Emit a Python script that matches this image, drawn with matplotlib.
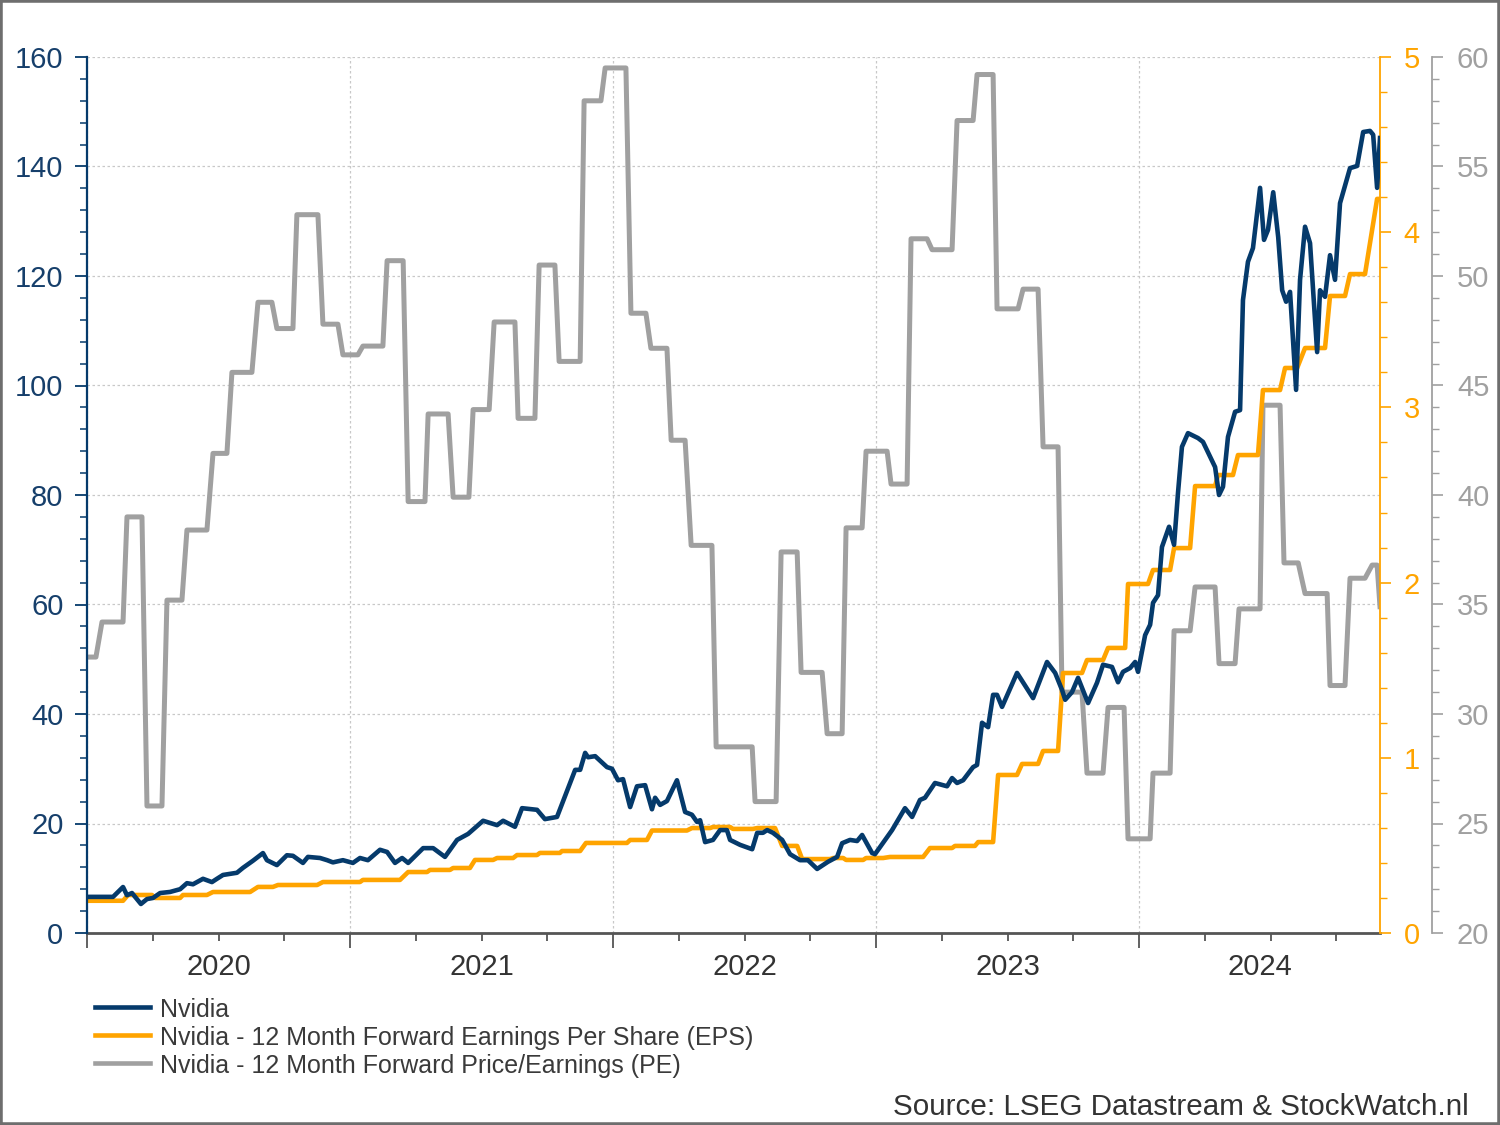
import numpy as np
import matplotlib
matplotlib.use("Agg")
import matplotlib.pyplot as plt
from matplotlib.ticker import MultipleLocator, NullFormatter
from matplotlib.lines import Line2D
from matplotlib.patches import Rectangle

plt.rcParams['font.family'] = ['Liberation Sans', 'DejaVu Sans']

# Nvidia koers (USD, split-gecorrigeerd), tijd in jaren vanaf 2020
nv_t = [0.000, 0.049, 0.099, 0.137, 0.152, 0.171, 0.205, 0.228, 0.251, 0.278,
        0.316, 0.354, 0.380, 0.403, 0.441, 0.475, 0.494, 0.517, 0.570, 0.593,
        0.631, 0.669, 0.684, 0.722, 0.760, 0.783, 0.821, 0.840, 0.886, 0.913,
        0.935, 0.973, 1.011, 1.038, 1.068, 1.114, 1.141, 1.171, 1.198, 1.221,
        1.278, 1.316, 1.361, 1.407, 1.449, 1.506, 1.559, 1.582, 1.627, 1.654,
        1.711, 1.741, 1.787, 1.856, 1.875, 1.894, 1.905, 1.932, 1.977, 1.996,
        2.019, 2.038, 2.065, 2.091, 2.122, 2.148, 2.160, 2.179, 2.205, 2.243,
        2.274, 2.300, 2.319, 2.331, 2.350, 2.380, 2.407, 2.433, 2.445, 2.483,
        2.529, 2.548, 2.570, 2.586, 2.608, 2.643, 2.673, 2.711, 2.741, 2.776,
        2.817, 2.852, 2.871, 2.901, 2.928, 2.947, 2.985, 2.996, 3.061, 3.110,
        3.137, 3.167, 3.186, 3.224, 3.270, 3.289, 3.308, 3.331, 3.369, 3.384,
        3.403, 3.426, 3.445, 3.460, 3.479, 3.536, 3.597, 3.650, 3.681, 3.707,
        3.719, 3.745, 3.768, 3.806, 3.840, 3.863, 3.897, 3.920, 3.939, 3.966,
        3.985, 3.996, 4.023, 4.042, 4.053, 4.072, 4.087, 4.114, 4.133, 4.148,
        4.163, 4.186, 4.224, 4.243, 4.289, 4.304, 4.319, 4.338, 4.365, 4.384,
        4.395, 4.414, 4.433, 4.460, 4.475, 4.490, 4.510, 4.529, 4.544, 4.559,
        4.574, 4.597, 4.612, 4.631, 4.650, 4.677, 4.688, 4.707, 4.726, 4.745,
        4.764, 4.802, 4.829, 4.852, 4.878, 4.890, 4.905, 4.916]
nv_v = [6.6, 6.6, 6.6, 8.4, 6.9, 7.3, 5.3, 6.2, 6.4, 7.3,
        7.5, 8.0, 9.1, 8.9, 9.9, 9.3, 9.9, 10.6, 11.0, 11.9,
        13.2, 14.6, 13.3, 12.4, 14.2, 14.1, 12.8, 13.9, 13.7, 13.3,
        12.9, 13.3, 12.8, 13.7, 13.3, 15.2, 14.8, 12.8, 13.7, 12.8,
        15.5, 15.5, 13.9, 17.0, 18.1, 20.5, 19.7, 20.5, 19.4, 22.8,
        22.5, 20.8, 21.2, 29.8, 29.8, 32.9, 32.1, 32.3, 30.3, 30.0,
        27.9, 28.1, 23.0, 26.8, 27.0, 22.6, 24.7, 23.4, 24.1, 27.9,
        22.1, 21.6, 20.3, 20.6, 16.6, 17.0, 18.8, 18.8, 17.0, 16.1,
        15.3, 18.3, 18.3, 18.8, 18.3, 17.0, 14.4, 13.3, 13.3, 11.7,
        13.0, 13.9, 16.4, 17.0, 16.8, 17.9, 14.6, 14.4, 18.8, 22.8,
        21.2, 24.3, 24.7, 27.4, 26.8, 28.3, 27.4, 27.9, 30.3, 30.7,
        38.4, 37.6, 43.5, 43.5, 41.3, 47.5, 42.9, 49.5, 47.5, 44.4,
        42.6, 44.0, 46.6, 42.0, 45.7, 49.0, 48.6, 45.8, 47.7, 48.4,
        49.5, 47.7, 54.4, 56.3, 60.3, 61.7, 70.5, 74.2, 70.9, 80.4,
        88.8, 91.3, 90.4, 89.7, 85.1, 80.0, 81.5, 90.6, 95.2, 95.5,
        115.6, 122.6, 125.1, 136.1, 126.6, 128.4, 135.3, 127.1, 117.4, 115.3,
        117.1, 99.2, 119.3, 129.0, 126.0, 106.1, 117.4, 116.2, 123.8, 119.3,
        133.3, 139.7, 140.1, 146.3, 146.5, 145.8, 136.1, 145.2]

# 12 maands forward EPS: periodes (begin, eind) en waarde
eps_start = [0.000, 0.156, 0.259, 0.365, 0.479, 0.650, 0.726, 0.897, 1.049, 1.221,
             1.304, 1.392, 1.475, 1.559, 1.635, 1.722, 1.806, 1.897, 2.065, 2.148,
             2.300, 2.380, 2.456, 2.548, 2.643, 2.719, 2.837, 2.886, 2.962, 3.053,
             3.205, 3.300, 3.388, 3.464, 3.555, 3.635, 3.711, 3.802, 3.882, 3.958,
             4.053, 4.133, 4.213, 4.300, 4.376, 4.471, 4.555, 4.631, 4.726, 4.802,
             4.905]
eps_end = [0.137, 0.247, 0.354, 0.456, 0.620, 0.707, 0.875, 1.038, 1.190, 1.293,
           1.380, 1.456, 1.544, 1.620, 1.711, 1.798, 1.875, 2.053, 2.129, 2.281,
           2.369, 2.445, 2.532, 2.616, 2.700, 2.825, 2.875, 2.951, 3.027, 3.179,
           3.289, 3.376, 3.445, 3.536, 3.616, 3.692, 3.783, 3.863, 3.947, 4.034,
           4.118, 4.194, 4.289, 4.357, 4.452, 4.536, 4.601, 4.707, 4.783, 4.859,
           4.916]
eps_val = [0.184, 0.217, 0.200, 0.217, 0.234, 0.263, 0.274, 0.291, 0.303, 0.348,
           0.360, 0.371, 0.417, 0.428, 0.445, 0.457, 0.468, 0.514, 0.531, 0.585,
           0.599, 0.605, 0.594, 0.599, 0.497, 0.422, 0.428, 0.417, 0.428, 0.434,
           0.485, 0.497, 0.519, 0.902, 0.965, 1.039, 1.484, 1.558, 1.627, 1.992,
           2.072, 2.197, 2.551, 2.614, 2.728, 3.099, 3.225, 3.339, 3.636, 3.761,
           4.190]

# 12 maands forward koers/winst
pe_start = [0.000, 0.057, 0.152, 0.228, 0.304, 0.380, 0.479, 0.551, 0.650, 0.722,
            0.798, 0.897, 0.973, 1.049, 1.141, 1.221, 1.297, 1.392, 1.468, 1.548,
            1.639, 1.719, 1.795, 1.890, 1.970, 2.068, 2.144, 2.221, 2.297, 2.392,
            2.540, 2.639, 2.715, 2.814, 2.886, 2.962, 3.057, 3.133, 3.213, 3.308,
            3.384, 3.460, 3.559, 3.635, 3.707, 3.802, 3.882, 3.958, 4.053, 4.133,
            4.213, 4.304, 4.380, 4.471, 4.551, 4.631, 4.726, 4.802, 4.886, 4.916]
pe_end = [0.034, 0.137, 0.209, 0.285, 0.361, 0.456, 0.532, 0.627, 0.703, 0.783,
          0.878, 0.954, 1.030, 1.125, 1.202, 1.285, 1.373, 1.452, 1.529, 1.627,
          1.703, 1.779, 1.875, 1.954, 2.049, 2.125, 2.205, 2.274, 2.376, 2.529,
          2.620, 2.700, 2.795, 2.871, 2.947, 3.042, 3.118, 3.194, 3.289, 3.369,
          3.445, 3.540, 3.616, 3.692, 3.783, 3.863, 3.943, 4.042, 4.118, 4.194,
          4.289, 4.365, 4.460, 4.536, 4.605, 4.715, 4.783, 4.859, 4.905, 4.916]
pe_val = [32.6, 34.2, 39.0, 25.8, 35.2, 38.4, 41.9, 45.6, 48.8, 47.6,
          52.8, 47.8, 46.4, 46.8, 50.7, 39.7, 43.7, 39.9, 43.9, 47.9,
          43.5, 50.5, 46.1, 58.0, 59.5, 48.3, 46.7, 42.5, 37.7, 28.5,
          26.0, 37.4, 31.9, 29.1, 38.5, 42.0, 40.5, 51.7, 51.2, 57.1,
          59.2, 48.5, 49.4, 42.2, 31.0, 27.3, 30.3, 24.3, 27.3, 33.8,
          35.8, 32.3, 34.8, 44.1, 36.9, 35.5, 31.3, 36.2, 36.8, 34.9]

labels = ['Nvidia',
          'Nvidia - 12 Month Forward Earnings Per Share (EPS)',
          'Nvidia - 12 Month Forward Price/Earnings (PE)']
jaren = [2020, 2021, 2022, 2023, 2024]

navy = '#053a6b'
oranje = '#ffa400'
grijs = '#a0a0a0'

x_nv = 2020 + np.array(nv_t)
x_eps = 2020 + np.column_stack([eps_start, eps_end]).ravel()
y_eps = np.repeat(eps_val, 2)
x_pe = 2020 + np.column_stack([pe_start, pe_end]).ravel()
y_pe = np.repeat(pe_val, 2)

fig = plt.figure(figsize=(15, 11.25), dpi=100)
ax3 = fig.add_axes([87/1500, 192/1125, 1293/1500, 876/1125])
ax2 = ax3.twinx()
ax = ax3.twinx()
ax3.set_zorder(1)
ax2.set_zorder(2)
ax.set_zorder(3)

l_pe, = ax3.plot(x_pe, y_pe, color=grijs, lw=3.6)
l_eps, = ax2.plot(x_eps, y_eps, color=oranje, lw=3.3)
l_nv, = ax.plot(x_nv, nv_v, color=navy, lw=3.3)

xmax = 2020 + 4.916
ax3.set_xlim(2020, xmax)
ax3.set_ylim(20, 60)
ax2.set_ylim(0, 5)
ax.set_ylim(0, 160)

# x-as
ax3.xaxis.set_major_locator(MultipleLocator(1))
ax3.xaxis.set_minor_locator(MultipleLocator(0.25))
ax3.xaxis.set_major_formatter(NullFormatter())
ax3.tick_params(axis='x', which='major', length=11, width=1.3, color='#555555')
ax3.tick_params(axis='x', which='minor', length=6, width=1.3, color='#555555')
for j in jaren:
    mid = (j + min(j + 1, xmax)) / 2
    ax3.text(mid, -0.039, str(j), transform=ax3.get_xaxis_transform(),
             ha='center', va='center', fontsize=21, color='#333333')

# grijze as (PE)
ax3.yaxis.tick_right()
ax3.yaxis.set_major_locator(MultipleLocator(5))
ax3.yaxis.set_minor_locator(MultipleLocator(1))
ax3.spines['right'].set_position(('axes', 1.0402))
ax3.spines['right'].set_color(grijs)
ax3.spines['right'].set_linewidth(1.3)
ax3.spines['left'].set_visible(False)
ax3.spines['top'].set_visible(False)
ax3.spines['bottom'].set_color('#555555')
ax3.spines['bottom'].set_linewidth(2)
ax3.tick_params(axis='y', which='major', length=8, width=1.2, color=grijs,
                labelcolor=grijs, labelsize=21, pad=10)
ax3.tick_params(axis='y', which='minor', length=5, width=1.0, color=grijs)
ax3.grid(True, which='major', color='#c8c8c8', linestyle=(0, (2, 2)), lw=0.9)

# oranje as (EPS)
ax2.yaxis.set_major_locator(MultipleLocator(1))
ax2.yaxis.set_minor_locator(MultipleLocator(0.2))
for s in ['left', 'top', 'bottom']:
    ax2.spines[s].set_visible(False)
ax2.spines['right'].set_color(oranje)
ax2.spines['right'].set_linewidth(1.3)
ax2.tick_params(axis='y', which='major', length=8, width=1.2, color=oranje,
                labelcolor=oranje, labelsize=21, pad=9)
ax2.tick_params(axis='y', which='minor', length=5, width=1.0, color=oranje)

# navy as (koers)
ax.yaxis.tick_left()
ax.yaxis.set_major_locator(MultipleLocator(20))
ax.yaxis.set_minor_locator(MultipleLocator(4))
for s in ['right', 'top', 'bottom']:
    ax.spines[s].set_visible(False)
ax.spines['left'].set_color(navy)
ax.spines['left'].set_linewidth(1.6)
ax.tick_params(axis='y', which='major', length=9, width=1.3, color=navy,
               labelcolor='#163f6b', labelsize=21, pad=8)
ax.tick_params(axis='y', which='minor', length=5, width=1.1, color=navy)

# legenda
for i, (lijn, lab) in enumerate(zip([l_nv, l_eps, l_pe], labels)):
    y = 1 - (1007 + 28 * i) / 1125
    fig.add_artist(Line2D([95/1500, 150/1500], [y, y], color=lijn.get_color(),
                          lw=3.3, transform=fig.transFigure))
    fig.text(160/1500, 1 - (1017 + 28 * i) / 1125, lab, fontsize=18,
             color='#3a3a3a', ha='left', va='baseline')

fig.text(1469/1500, 1 - 1115/1125, 'Source: LSEG Datastream & StockWatch.nl',
         fontsize=21.3, color='#333333', ha='right', va='baseline')

fig.add_artist(Rectangle((0, 0), 1, 1, transform=fig.transFigure, fill=False,
                         edgecolor='#6e6e6e', lw=4))

fig.savefig('out.png', dpi=100, facecolor='white')
